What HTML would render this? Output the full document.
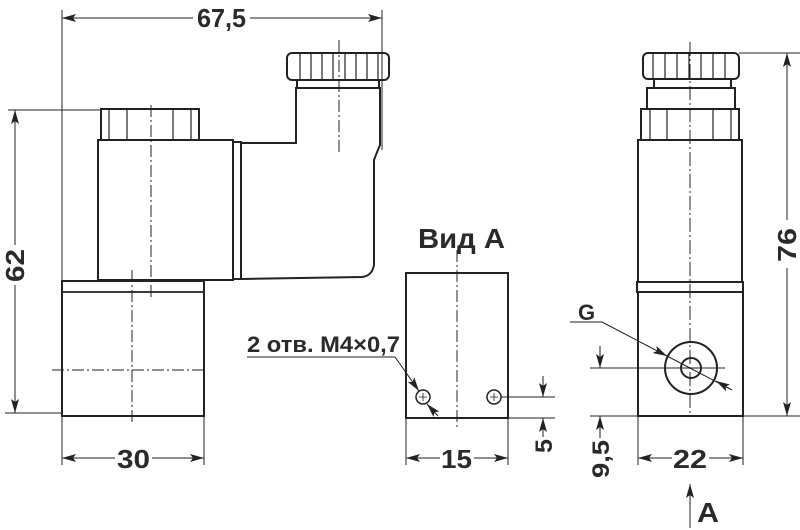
<!DOCTYPE html>
<html><head><meta charset="utf-8"><style>
html,body{margin:0;padding:0;background:#fff;}
svg{display:block;}
text{font-family:"Liberation Sans",sans-serif;font-weight:bold;fill:#2a2a2a;}
</style></head><body>
<svg width="800" height="530" viewBox="0 0 800 530" xmlns="http://www.w3.org/2000/svg">
<defs>
<marker id="ar" markerWidth="14" markerHeight="8" refX="14" refY="4" orient="auto" markerUnits="userSpaceOnUse">
<path d="M0,0 L14,4 L0,8 L3,4 Z" fill="#222"/></marker>
</defs>
<g stroke="#222" fill="none">
<g stroke-width="2">
<rect x="101" y="109" width="98" height="31"/>
<rect x="98" y="140" width="135" height="140"/>
<rect x="233" y="142" width="8" height="137"/>
<path d="M241,143 L296,143 L296,88 L380,88 L380,145 Q377,152 374,160 L374,265 Q372,276 362,277 L241,279"/>
<rect x="287" y="53" width="102" height="27" rx="5"/>
<rect x="297" y="80" width="82" height="8"/>
<rect x="62" y="281" width="142" height="135"/>
</g>
<g stroke-width="1.2">
<line x1="109" y1="109" x2="109" y2="140"/><line x1="127" y1="109" x2="127" y2="140"/>
<line x1="173" y1="109" x2="173" y2="140"/><line x1="191" y1="109" x2="191" y2="140"/>
<line x1="300" y1="53" x2="300" y2="80"/><line x1="311" y1="53" x2="311" y2="80"/><line x1="322" y1="53" x2="322" y2="80"/><line x1="333" y1="53" x2="333" y2="80"/><line x1="345" y1="53" x2="345" y2="80"/><line x1="356" y1="53" x2="356" y2="80"/><line x1="367" y1="53" x2="367" y2="80"/><line x1="378" y1="53" x2="378" y2="80"/>
<line x1="62" y1="292" x2="204" y2="292" stroke-width="1.8"/>
</g>
<g stroke-width="1" stroke-dasharray="12,3,2,3">
<line x1="151" y1="105" x2="151" y2="300"/>
<line x1="339" y1="40" x2="339" y2="155"/>
<line x1="132" y1="270" x2="132" y2="425"/>
<line x1="52" y1="370" x2="204" y2="370"/>
<line x1="457" y1="250" x2="457" y2="430"/>
<line x1="690" y1="42" x2="690" y2="416" stroke-dasharray="14,3,2,3"/>
</g>
<g stroke-width="1">
<line x1="62" y1="10" x2="62" y2="465"/>
<line x1="382" y1="10" x2="382" y2="150"/>
<line x1="193" y1="18" x2="62" y2="18" marker-end="url(#ar)"/>
<line x1="250" y1="18" x2="382" y2="18" marker-end="url(#ar)"/>
<line x1="8" y1="110" x2="101" y2="110"/>
<line x1="5" y1="413" x2="62" y2="413"/>
<line x1="15" y1="245" x2="15" y2="110" marker-end="url(#ar)"/>
<line x1="15" y1="285" x2="15" y2="413" marker-end="url(#ar)"/>
<line x1="204" y1="416" x2="204" y2="465"/>
<line x1="115" y1="458" x2="62" y2="458" marker-end="url(#ar)"/>
<line x1="152" y1="458" x2="204" y2="458" marker-end="url(#ar)"/>
</g>
<rect x="406" y="273" width="102" height="145" stroke-width="2"/>
<g stroke-width="1.5"><circle cx="423" cy="397" r="7"/><circle cx="494" cy="397" r="7"/></g>
<g stroke-width="0.8"><path d="M419,397h8M423,393v8M490,397h8M494,393v8"/></g>
<g stroke-width="1">
<line x1="247" y1="357" x2="395" y2="357"/>
<line x1="395" y1="357" x2="419" y2="391" marker-end="url(#ar)"/>
<line x1="438" y1="416" x2="427" y2="404" marker-end="url(#ar)"/>
<line x1="406" y1="418" x2="406" y2="465"/><line x1="508" y1="418" x2="508" y2="465"/>
<line x1="440" y1="458" x2="406" y2="458" marker-end="url(#ar)"/>
<line x1="474" y1="458" x2="508" y2="458" marker-end="url(#ar)"/>
<line x1="501" y1="397" x2="555" y2="397"/><line x1="508" y1="418" x2="555" y2="418"/>
<line x1="543" y1="376" x2="543" y2="397" marker-end="url(#ar)"/>
<line x1="543" y1="437" x2="543" y2="418" marker-end="url(#ar)"/>
</g>
<g stroke-width="2">
<rect x="643" y="53" width="96" height="26" rx="5"/>
<rect x="654" y="79" width="77" height="9"/>
<rect x="647" y="88" width="88" height="21"/>
<rect x="641" y="109" width="98" height="31"/>
<rect x="638" y="140" width="104" height="142"/>
<rect x="637" y="282" width="106" height="10"/>
<rect x="638" y="292" width="105" height="124"/>
<circle cx="691" cy="368" r="26"/>
<circle cx="691" cy="368" r="10"/>
</g>
<g stroke-width="1.2">
<line x1="650" y1="109" x2="650" y2="140"/><line x1="667" y1="109" x2="667" y2="140"/>
<line x1="713" y1="109" x2="713" y2="140"/><line x1="731" y1="109" x2="731" y2="140"/>
<line x1="653" y1="53" x2="653" y2="79"/><line x1="665" y1="53" x2="665" y2="79"/><line x1="677" y1="53" x2="677" y2="79"/><line x1="689" y1="53" x2="689" y2="79"/><line x1="701" y1="53" x2="701" y2="79"/><line x1="713" y1="53" x2="713" y2="79"/><line x1="725" y1="53" x2="725" y2="79"/>
</g>
<g stroke-width="1">
<line x1="590" y1="368" x2="725" y2="368"/>
<line x1="590" y1="416" x2="800" y2="416"/>
<line x1="739" y1="53" x2="800" y2="53"/>
<line x1="787" y1="220" x2="787" y2="53" marker-end="url(#ar)"/>
<line x1="787" y1="268" x2="787" y2="416" marker-end="url(#ar)"/>
<line x1="570" y1="322" x2="602" y2="322"/>
<line x1="602" y1="322" x2="667" y2="356" marker-end="url(#ar)"/>
<line x1="667" y1="356" x2="732" y2="390"/>
<line x1="730" y1="389" x2="716" y2="381" marker-end="url(#ar)"/>
<line x1="600" y1="346" x2="600" y2="368" marker-end="url(#ar)"/>
<line x1="600" y1="438" x2="600" y2="416" marker-end="url(#ar)"/>
<line x1="638" y1="416" x2="638" y2="465"/><line x1="743" y1="416" x2="743" y2="465"/>
<line x1="672" y1="458" x2="638" y2="458" marker-end="url(#ar)"/>
<line x1="709" y1="458" x2="743" y2="458" marker-end="url(#ar)"/>
<line x1="690" y1="528" x2="690" y2="484" marker-end="url(#ar)"/>
</g>
</g>
<text x="197" y="27" font-size="26" textLength="49" lengthAdjust="spacingAndGlyphs">67,5</text>
<text x="117" y="468" font-size="26" textLength="33" lengthAdjust="spacingAndGlyphs">30</text>
<text x="441" y="468" font-size="26" textLength="31" lengthAdjust="spacingAndGlyphs">15</text>
<text x="673" y="468" font-size="26" textLength="34" lengthAdjust="spacingAndGlyphs">22</text>
<text x="418" y="248" font-size="28" textLength="87" lengthAdjust="spacingAndGlyphs">Вид А</text>
<text x="247" y="352" font-size="22" textLength="153" lengthAdjust="spacingAndGlyphs">2 отв. М4×0,7</text>
<text x="578" y="320" font-size="22">G</text>
<text x="697" y="522" font-size="28" textLength="22" lengthAdjust="spacingAndGlyphs">A</text>
<text transform="translate(24,282) rotate(-90)" font-size="26" textLength="33" lengthAdjust="spacingAndGlyphs">62</text>
<text transform="translate(796,262) rotate(-90)" font-size="26" textLength="34" lengthAdjust="spacingAndGlyphs">76</text>
<text transform="translate(552,453) rotate(-90)" font-size="24" textLength="14" lengthAdjust="spacingAndGlyphs">5</text>
<text transform="translate(609,478) rotate(-90)" font-size="24" textLength="38" lengthAdjust="spacingAndGlyphs">9,5</text>
</svg>
</body></html>
